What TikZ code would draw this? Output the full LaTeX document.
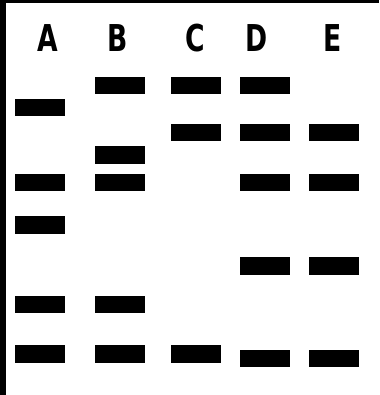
\documentclass[tikz,border=0pt]{standalone}
\usepackage{fontspec}
\newfontfamily\lanefont[FakeStretch=0.72]{DejaVu Sans}
\usepackage{tikz}
\tikzset{
  band/.style={fill=black, minimum width=50pt, minimum height=17.5pt, inner sep=0pt},
  lanelabel/.style={font=\lanefont\bfseries\fontsize{37}{37}\selectfont, inner sep=0pt}
}

\begin{document}
\begin{tikzpicture}[x=1pt, y=-1pt]
        \useasboundingbox (0,0) rectangle (379,395);
        \fill[black] (0,0) rectangle (379,3.5);
        \fill[black] (0,0) rectangle (6,395);
        % lane labels
        \node[lanelabel] (labA) at (48,38.5) {A};
        \node[lanelabel] (labB) at (118,38.5) {B};
        \node[lanelabel] (labC) at (195,38.5) {C};
        \node[lanelabel] (labD) at (257,38.5) {D};
        \node[lanelabel] (labE) at (333,38.5) {E};
        % bands, lane by lane
        \foreach \y [count=\i] in {107.5, 182.5, 225, 304.5, 354}
            \node[band] (A\i) at (40,\y) {};
        \foreach \y [count=\i] in {85.5, 155, 182.5, 304.5, 354}
            \node[band] (B\i) at (120,\y) {};
        \foreach \y [count=\i] in {85.5, 132.5, 354}
            \node[band] (C\i) at (196,\y) {};
        \foreach \y [count=\i] in {85.5, 132.5, 182.5, 266, 358.5}
            \node[band] (D\i) at (265,\y) {};
        \foreach \y [count=\i] in {132.5, 182.5, 266, 358.5}
            \node[band] (E\i) at (334,\y) {};
    \end{tikzpicture}
\end{document}
